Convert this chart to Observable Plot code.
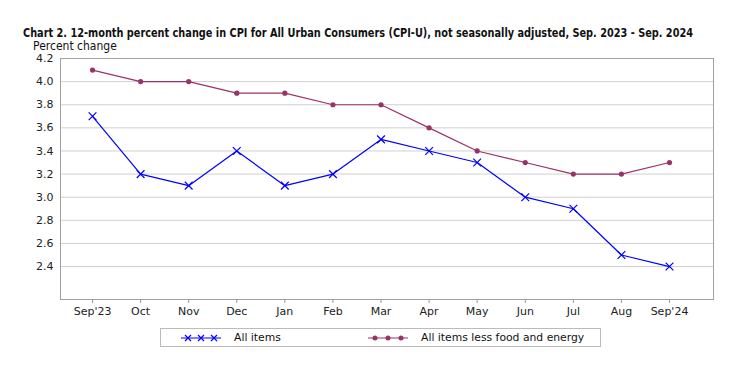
<!DOCTYPE html>
<html><head><meta charset="utf-8">
<script src="https://cdn.jsdelivr.net/npm/d3@7"></script>
<script src="https://cdn.jsdelivr.net/npm/@observablehq/plot@0.6"></script>
<style>
body{margin:0;background:#fff;font-family:"DejaVu Sans",sans-serif;}
#wrap{position:relative;width:744px;height:370px;}
#title{position:absolute;left:23px;top:25px;font-weight:bold;font-size:12.5px;color:#111;white-space:nowrap;transform-origin:0 0;}
#sub{position:absolute;left:33px;top:39px;font-size:12px;color:#111;white-space:nowrap;transform-origin:0 0;transform:scaleX(0.9)}
#legend{position:absolute;left:160px;top:328px;width:441px;height:19px;border:1px solid #bbb;box-sizing:border-box;font-size:10.8px;color:#111;}
#legend .it{position:absolute;top:2px;display:flex;align-items:center;white-space:nowrap;}
#legend svg{margin-right:13px;flex:none}
</style></head>
<body><div id="wrap">
<div id="chart"></div>
<div id="title">Chart 2. 12-month percent change in CPI for All Urban Consumers (CPI-U), not seasonally adjusted, Sep. 2023 - Sep. 2024</div>
<div id="sub">Percent change</div>
<div id="legend">
 <div class="it" style="left:20px"><svg width="40" height="12"><line x1="0" y1="6" x2="40" y2="6" stroke="#0000ff" stroke-width="1.2"/><g stroke="#0000ff" stroke-width="1.2"><path d="M4,3L10,9M10,3L4,9"/><path d="M17,3L23,9M23,3L17,9"/><path d="M30,3L36,9M36,3L30,9"/></g></svg><span>All items</span></div>
 <div class="it" style="left:207px"><svg width="40" height="12"><line x1="0" y1="6" x2="40" y2="6" stroke="#993366" stroke-width="1.2"/><g fill="#993366"><circle cx="7" cy="6" r="2.5"/><circle cx="20" cy="6" r="2.5"/><circle cx="33" cy="6" r="2.5"/></g></svg><span>All items less food and energy</span></div>
</div>
</div>
<script>
const months = ["Sep'23","Oct","Nov","Dec","Jan","Feb","Mar","Apr","May","Jun","Jul","Aug","Sep'24"];
const allItems = [3.7,3.2,3.1,3.4,3.1,3.2,3.5,3.4,3.3,3.0,2.9,2.5,2.4];
const core = [4.1,4.0,4.0,3.9,3.9,3.8,3.8,3.6,3.4,3.3,3.2,3.2,3.3];
const yTicks = [2.4,2.6,2.8,3.0,3.2,3.4,3.6,3.8,4.0,4.2];

const a = months.map((m,i)=>({i, v: allItems[i]}));
const c = months.map((m,i)=>({i, v: core[i]}));

const plot = Plot.plot({
  width: 744, height: 370,
  marginTop: 58, marginBottom: 71, marginLeft: 60, marginRight: 31,
  style: {fontFamily: '"DejaVu Sans", sans-serif', fontSize: "11px", color: "#222", background: "#fff"},
  x: {domain: [-0.666, 12.915], label: null},
  y: {domain: [2.115, 4.2], label: null},
  marks: [
    Plot.ruleY(yTicks, {stroke: "#d0d0d0", strokeWidth: 1}),
    Plot.frame({stroke: "#a0a0a0"}),
    Plot.axisX({ticks: d3.range(13), tickFormat: i => months[i], tickSize: 4, tickPadding: 4, stroke: "#999", fontSize: 11}),
    Plot.axisY({ticks: yTicks, tickFormat: d => d.toFixed(1), tickSize: 0, tickPadding: 7, fontSize: 11}),
    Plot.line(c, {x: "i", y: "v", stroke: "#993366", strokeWidth: 1.2}),
    Plot.dot(c, {x: "i", y: "v", fill: "#993366", r: 2.6}),
    Plot.line(a, {x: "i", y: "v", stroke: "#0000ff", strokeWidth: 1.2}),
    Plot.dot(a, {x: "i", y: "v", symbol: "times", stroke: "#0000ff", r: 3.6, strokeWidth: 1.2})
  ]
});
document.getElementById("chart").appendChild(plot);
const t = document.getElementById("title");
const w = t.getBoundingClientRect().width;
t.style.transform = `scaleX(${670 / w})`;
</script>
</body></html>
